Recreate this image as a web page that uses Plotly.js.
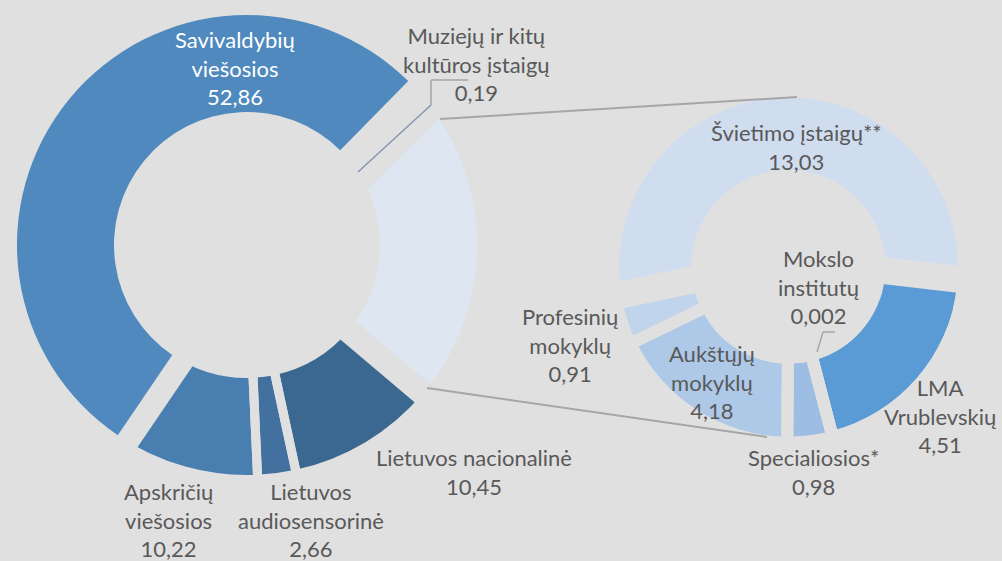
<!DOCTYPE html>
<html><head><meta charset="utf-8">
<script src="https://cdn.plot.ly/plotly-3.0.1.min.js"></script>
<style>html,body{margin:0;padding:0;background:#e0e0e0;overflow:hidden}#chart{width:1002px;height:561px}</style>
</head><body><div id="chart"></div>
<script>
// ---- data ----
const leftCategories = ['Muziejų ir kitų<br>kultūros įstaigų', 'Švietimo įstaigų', 'Lietuvos nacionalinė', 'Lietuvos<br>audiosensorinė', 'Apskričių<br>viešosios', 'Savivaldybių<br>viešosios'];
const leftValues = [0.19, 23.61, 10.45, 2.66, 10.22, 52.86];
const leftColors = ['#8497b0', '#dee6f1', '#3b6890', '#42719f', '#497fb0', '#4f89bd'];
const leftShowLabel = [true, false, true, true, true, true];

const rightCategories = ['Švietimo įstaigų**', 'LMA<br>Vrublevskių', 'Mokslo<br>institutų', 'Specialiosios*', 'Aukštųjų<br>mokyklų', 'Profesinių<br>mokyklų'];
const rightValues = [13.03, 4.51, 0.002, 0.98, 4.18, 0.91];
const rightColors = ['#d0ddef', '#5b9bd5', '#5b9bd5', '#9dbde3', '#aec8e8', '#c0d4ec'];

// ---- layout geometry (pixels) ----
const W = 1002, H = 561, BG = '#e0e0e0';
const LEFT = {cx: 247, cy: 245, R: 230, r: 133, rotation: 44.5, pad: 13};
const RIGHT = {cx: 788.5, cy: 267, R: 169.5, r: 97, rotation: 258, pad: 21};
// gap stroke widths per slice (px)
const leftGapWidths = [92, 24, 9, 9, 9, 46];
const rightBigGap = [42, 0, 0, 0, 0, 0];
const rightSmallGap = [0, 12, 12, 12, 12, 12];

const leftLabelPos = [[476, 64], null, [474, 472], [311, 520], [168, 520], [235, 68]];
const leftLabelColor = ['#595959', '#595959', '#595959', '#595959', '#595959', '#ffffff'];
const rightLabelPos = [[796.5, 146.5], [940, 416], [818, 287], [813, 472], [712, 382], [569.5, 345]];

const TRANSP = 'rgba(0,0,0,0)';
function px(x) { return x / W; }
function py(y) { return 1 - y / H; }
function domainFor(g, rad) {
  return {x: [(g.cx - rad) / W, (g.cx + rad) / W], y: [(H - g.cy - rad) / H, (H - g.cy + rad) / H]};
}
function pie(g, values, labels, colors, widths, oversized) {
  const rad = oversized ? g.R + g.pad : g.R;
  const hole = oversized ? (g.r - g.pad) / rad : g.r / g.R;
  return {
    type: 'pie', values: values, labels: labels, sort: false, direction: 'clockwise',
    rotation: g.rotation, hole: hole, domain: domainFor(g, rad),
    textinfo: 'none', hoverinfo: 'skip', showlegend: false,
    marker: {colors: colors, line: {color: BG, width: widths}}
  };
}
const zeros = n => new Array(n).fill(0);
const fmt = v => String(v).replace('.', ',');

const traces = [];
// left donut: base, gap strokes, Savivaldybių redrawn on top
traces.push(pie(LEFT, leftValues, leftCategories, leftColors, zeros(6), false));
traces.push(pie(LEFT, leftValues, leftCategories, leftValues.map(() => TRANSP), leftGapWidths, true));
traces.push(pie(LEFT, leftValues, leftCategories, leftColors.map((c, i) => i === 5 ? c : TRANSP), zeros(6), false));
// right donut: base, big gap, redraw small slices, small gaps
traces.push(pie(RIGHT, rightValues, rightCategories, rightColors, zeros(6), false));
traces.push(pie(RIGHT, rightValues, rightCategories, rightValues.map(() => TRANSP), rightBigGap, true));
traces.push(pie(RIGHT, rightValues, rightCategories, rightColors.map((c, i) => i === 0 ? TRANSP : c), zeros(6), false));
traces.push(pie(RIGHT, rightValues, rightCategories, rightValues.map(() => TRANSP), rightSmallGap, true));

const FONT = 'Lato, "Open Sans", sans-serif';
const annotations = [];
leftCategories.forEach((c, i) => {
  if (!leftShowLabel[i] || !leftLabelPos[i]) return;
  annotations.push({xref: 'paper', yref: 'paper', x: px(leftLabelPos[i][0]), y: py(leftLabelPos[i][1]),
    xanchor: 'center', yanchor: 'middle', showarrow: false, align: 'center',
    text: c + '<br>' + fmt(leftValues[i]), font: {family: FONT, size: 22, color: leftLabelColor[i]}});
});
rightCategories.forEach((c, i) => {
  annotations.push({xref: 'paper', yref: 'paper', x: px(rightLabelPos[i][0]), y: py(rightLabelPos[i][1]),
    xanchor: 'center', yanchor: 'middle', showarrow: false, align: 'center',
    text: c + '<br>' + fmt(rightValues[i]), font: {family: FONT, size: 22, color: '#595959'}});
});

function line(x0, y0, x1, y1, color, width) {
  return {type: 'line', xref: 'paper', yref: 'paper', x0: px(x0), y0: py(y0), x1: px(x1), y1: py(y1),
    line: {color: color, width: width}, layer: 'above'};
}
const shapes = [
  line(440, 119, 797, 97, '#a6a6a6', 2),
  line(427, 388, 767, 437, '#a6a6a6', 2),
  line(358, 172, 431, 105, '#8497b0', 1.5),
  line(431, 105, 431, 80, '#a6a6a6', 1.5),
  line(431, 80, 468, 80, '#a6a6a6', 1.5),
  line(817, 352, 823, 332, '#a6a6a6', 1.5),
  line(823, 332, 835, 332, '#a6a6a6', 1.5)
];

Plotly.newPlot('chart', traces, {
  width: W, height: H, margin: {l: 0, r: 0, t: 0, b: 0},
  paper_bgcolor: BG, plot_bgcolor: BG, showlegend: false,
  annotations: annotations, shapes: shapes
}, {staticPlot: true});
</script></body></html>
